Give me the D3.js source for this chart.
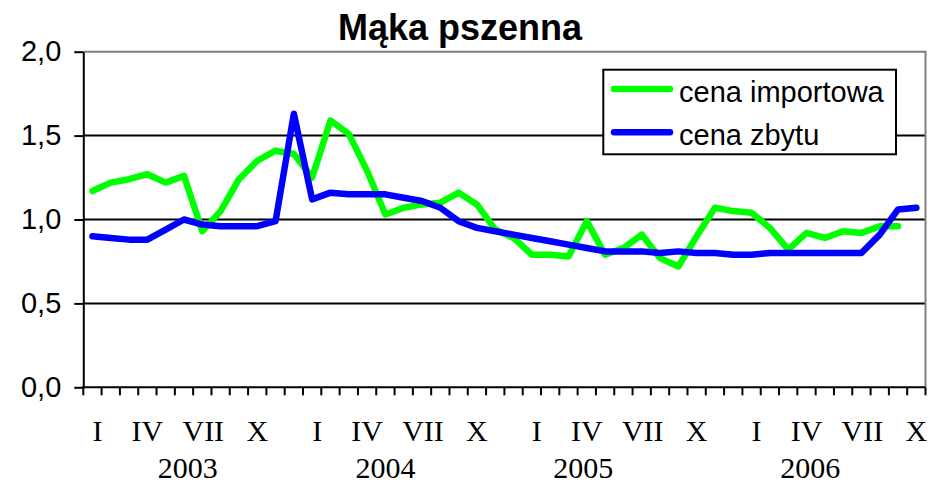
<!DOCTYPE html>
<html>
<head>
<meta charset="utf-8">
<script src="https://cdn.jsdelivr.net/npm/d3@7"></script>
<style>
  html, body { margin: 0; padding: 0; background: #fff; }
  svg { display: block; }
</style>
</head>
<body>
<div id="chart"></div>
<script>
// months Jan 2003 .. Oct 2006
const months = d3.range(46);
const monthLabels = ["I", "", "", "IV", "", "", "VII", "", "", "X", "", ""];
const years = ["2003", "2004", "2005", "2006"];
const yTicks = [0, 0.5, 1.0, 1.5, 2.0];

const cenaImportowa = [
  1.17, 1.22, 1.24, 1.27, 1.22, 1.26, 0.93, 1.05, 1.24, 1.35, 1.41, 1.39,
  1.25, 1.59, 1.51, 1.29, 1.03, 1.07, 1.09, 1.10, 1.16, 1.09, 0.94, 0.89,
  0.79, 0.79, 0.78, 0.99, 0.79, 0.83, 0.91, 0.77, 0.72, 0.90, 1.07, 1.05,
  1.04, 0.95, 0.82, 0.92, 0.89, 0.93, 0.92, 0.96, 0.96
];
const cenaZbytu = [
  0.90, 0.89, 0.88, 0.88, 0.94, 1.00, 0.97, 0.96, 0.96, 0.96, 0.99, 1.63,
  1.12, 1.16, 1.15, 1.15, 1.15, 1.13, 1.11, 1.07, 0.99, 0.95, 0.93, 0.91,
  0.89, 0.87, 0.85, 0.83, 0.81, 0.81, 0.81, 0.80, 0.81, 0.80, 0.80, 0.79,
  0.79, 0.80, 0.80, 0.80, 0.80, 0.80, 0.80, 0.91, 1.06, 1.07
];

const W = 930, H = 486;
const plot = { left: 83.3, right: 925.5, top: 51.7, bottom: 387.3 };

const svg = d3.select("#chart").append("svg")
  .attr("width", W).attr("height", H);

const x = d3.scaleBand().domain(months).range([plot.left, plot.right]);
const y = d3.scaleLinear().domain([0, 2]).range([plot.bottom, plot.top]);
const cx = i => x(i) + x.bandwidth() / 2;

// title
svg.append("text")
  .attr("x", 460).attr("y", 40)
  .attr("text-anchor", "middle")
  .style("font-family", "Arial, 'Liberation Sans', sans-serif")
  .style("font-weight", "bold").style("font-size", "36px")
  .text("Mąka pszenna");

// gridlines
svg.append("g").selectAll("line")
  .data(yTicks.filter(v => v > 0 && v < 2))
  .join("line")
  .attr("x1", plot.left).attr("x2", plot.right)
  .attr("y1", d => y(d)).attr("y2", d => y(d))
  .attr("stroke", "#000").attr("stroke-width", 2);

// plot area border (top and right)
svg.append("path")
  .attr("d", `M${plot.left},${y(2)}H${plot.right}V${plot.bottom}`)
  .attr("fill", "none").attr("stroke", "#808080").attr("stroke-width", 2);

// y axis
const yAxis = svg.append("g")
  .attr("transform", `translate(${plot.left},0)`)
  .call(d3.axisLeft(y).tickValues(yTicks).tickSizeInner(9).tickSizeOuter(0)
    .tickPadding(13).tickFormat(d => d3.format(".1f")(d).replace(".", ",")));
yAxis.select(".domain").attr("stroke", "#000").attr("stroke-width", 2);
yAxis.selectAll(".tick line").attr("stroke", "#000").attr("stroke-width", 2);
yAxis.selectAll(".tick text")
  .style("font-family", "Arial, 'Liberation Sans', sans-serif")
  .style("font-size", "29px").attr("fill", "#000");

// x axis: ticks between categories
const xg = svg.append("g");
xg.append("line")
  .attr("x1", plot.left - 1).attr("x2", plot.right)
  .attr("y1", plot.bottom).attr("y2", plot.bottom)
  .attr("stroke", "#000").attr("stroke-width", 2);
xg.selectAll("line.tk")
  .data(d3.range(months.length + 1))
  .join("line").attr("class", "tk")
  .attr("x1", i => plot.left + i * x.step()).attr("x2", i => plot.left + i * x.step())
  .attr("y1", plot.bottom).attr("y2", plot.bottom + 8)
  .attr("stroke", "#000").attr("stroke-width", 2);

const serif = "'Times New Roman', 'Liberation Serif', serif";
xg.selectAll("text.m")
  .data(months.filter(i => monthLabels[i % 12] !== ""))
  .join("text").attr("class", "m")
  .attr("x", i => cx(i) + (monthLabels[i % 12] === "I" ? 5 : (monthLabels[i % 12] === "VII" ? 1 : 0)))
  .attr("y", 441)
  .attr("text-anchor", "middle")
  .style("font-family", serif).style("font-size", "30px")
  .text(i => monthLabels[i % 12]);

// year labels, positioned like the hand-placed originals
const yearAt = [5.2, 16.0, 26.8, 39.2];
xg.selectAll("text.yr")
  .data(years)
  .join("text").attr("class", "yr")
  .attr("x", (d, k) => plot.left + (yearAt[k] + 0.5) * x.step())
  .attr("y", 478)
  .attr("text-anchor", "middle")
  .style("font-family", serif).style("font-size", "30px")
  .text(d => d);

// lines
const line = d3.line().x((d, i) => cx(i)).y(d => y(d));
svg.append("path").datum(cenaImportowa)
  .attr("d", line).attr("fill", "none")
  .attr("stroke", "#00ff00").attr("stroke-width", 6.5)
  .attr("stroke-linejoin", "round").attr("stroke-linecap", "round");
svg.append("path").datum(cenaZbytu)
  .attr("d", line).attr("fill", "none")
  .attr("stroke", "#0000ff").attr("stroke-width", 6.5)
  .attr("stroke-linejoin", "round").attr("stroke-linecap", "round");

// legend
const legend = [
  { name: "cena importowa", color: "#00ff00" },
  { name: "cena zbytu", color: "#0000ff" }
];
const lg = svg.append("g");
lg.append("rect")
  .attr("x", 603.3).attr("y", 69.7).attr("width", 292.7).attr("height", 84.6)
  .attr("fill", "#fff").attr("stroke", "#000").attr("stroke-width", 2);
const items = lg.selectAll("g.it").data(legend).join("g").attr("class", "it")
  .attr("transform", (d, i) => `translate(0,${89 + i * 43.3})`);
items.append("line")
  .attr("x1", 614).attr("x2", 670).attr("y1", 0).attr("y2", 0)
  .attr("stroke", d => d.color).attr("stroke-width", 6.5).attr("stroke-linecap", "round");
items.append("text")
  .attr("x", 679).attr("y", 12.5)
  .style("font-family", "Arial, 'Liberation Sans', sans-serif")
  .style("font-size", "29px")
  .text(d => d.name);
</script>
</body>
</html>
